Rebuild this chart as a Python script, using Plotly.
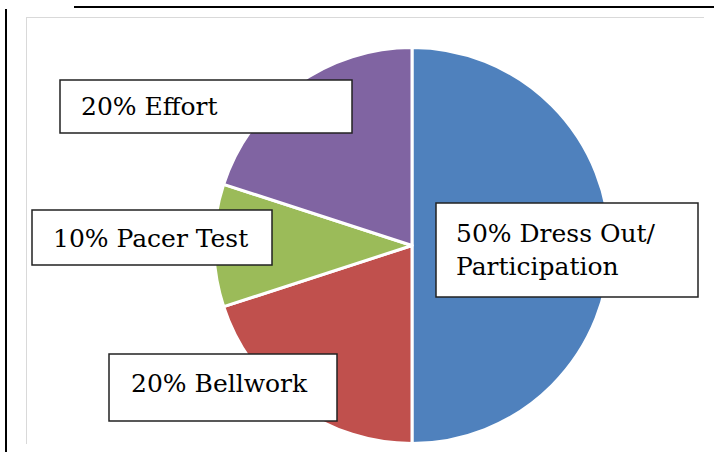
import plotly.graph_objects as go

# Data
categories = ["Dress Out/Participation", "Bellwork", "Pacer Test", "Effort"]
values = [50, 20, 10, 20]
label_texts = ["50% Dress Out/<br>Participation", "20% Bellwork", "10% Pacer Test", "20% Effort"]
colors = ["#4F81BD", "#C0504D", "#9BBB59", "#8064A2"]

W, H = 714, 452

def px(x):
    return x / W

def py(y):
    return 1 - y / H

cx, cy, r = 412, 245.5, 198

fig = go.Figure(go.Pie(
    labels=categories,
    values=values,
    sort=False,
    direction="clockwise",
    rotation=0,
    marker=dict(colors=colors, line=dict(color="white", width=3)),
    textinfo="none",
    hoverinfo="label+percent",
    showlegend=False,
    domain=dict(x=[px(cx - r), px(cx + r)], y=[py(cy + r), py(cy - r)]),
))

# label boxes: (left, top, right, bottom) in pixels, text left x, text center y
boxes = [
    (436, 203, 698, 297, 455, 250),
    (109, 354, 337, 421, 130, 383),
    (32, 210, 272, 265, 52, 238),
    (60, 80, 352, 133, 80, 107),
]
font = dict(family="DejaVu Serif", size=25, color="black")
shapes = []
for txt, (l, t, rr, b, tx, ty) in zip(label_texts, boxes):
    shapes.append(dict(type="rect", xref="paper", yref="paper", layer="above",
                       x0=px(l), x1=px(rr), y0=py(b), y1=py(t),
                       fillcolor="white", line=dict(color="#222222", width=1.5)))
    fig.add_annotation(
        xref="paper", yref="paper",
        x=px(tx), y=py(ty), xanchor="left", yanchor="middle",
        text=txt, showarrow=False, align="left",
        font=font, borderpad=0,
    )

shapes += [
    dict(type="line", xref="paper", yref="paper", x0=px(74), x1=px(714), y0=py(7), y1=py(7),
         line=dict(color="black", width=2)),
    dict(type="line", xref="paper", yref="paper", x0=px(6), x1=px(6), y0=py(9), y1=py(452),
         line=dict(color="black", width=2)),
    dict(type="line", xref="paper", yref="paper", x0=px(26), x1=px(704), y0=py(17.5), y1=py(17.5),
         line=dict(color="#d9d9d9", width=1)),
    dict(type="line", xref="paper", yref="paper", x0=px(26.5), x1=px(26.5), y0=py(17), y1=py(444),
         line=dict(color="#d9d9d9", width=1)),
]

fig.update_layout(
    width=W, height=H,
    margin=dict(l=0, r=0, t=0, b=0),
    paper_bgcolor="white", plot_bgcolor="white",
    shapes=shapes,
)

fig.write_html("out.html", config={"displayModeBar": False},
               post_script="document.body.style.margin='0';document.body.style.overflow='hidden';")
